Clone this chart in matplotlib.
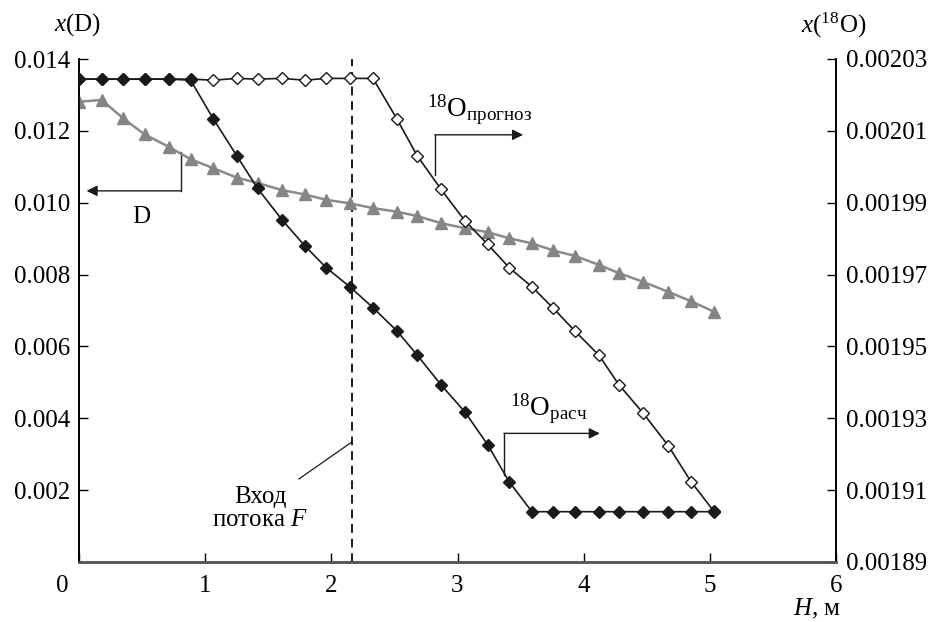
import matplotlib
matplotlib.use('Agg')
import matplotlib.pyplot as plt
import matplotlib.transforms as mtrans
from matplotlib.ticker import FormatStrFormatter

plt.rcParams['font.family'] = ['Liberation Serif', 'DejaVu Serif']
plt.rcParams['mathtext.fontset'] = 'custom'
plt.rcParams['mathtext.rm'] = 'Liberation Serif'
plt.rcParams['mathtext.it'] = 'Liberation Serif:italic'
plt.rcParams['font.size'] = 18

# column height, m
H = [0.00, 0.18, 0.35, 0.52, 0.71, 0.885, 1.065, 1.25, 1.415, 1.61,
     1.79, 1.96, 2.15, 2.33, 2.52, 2.68, 2.87, 3.06, 3.24, 3.41,
     3.59, 3.76, 3.93, 4.12, 4.28, 4.47, 4.67, 4.85, 5.03]

# x(D), left axis
xD = [0.01281, 0.01286, 0.01235, 0.01190, 0.01156, 0.01121, 0.01096, 0.01070,
      0.01055, 0.01035, 0.01023, 0.01008, 0.00998, 0.00985, 0.00975, 0.00963,
      0.00943, 0.00929, 0.00918, 0.00901, 0.00887, 0.00867, 0.00852, 0.00827,
      0.00804, 0.00780, 0.00752, 0.00726, 0.00697]

# x(18O) calculated, right axis
xO_calc = [0.0020244, 0.0020244, 0.0020244, 0.0020244, 0.0020244, 0.0020241,
           0.0020133, 0.0020031, 0.0019940, 0.0019852, 0.0019780, 0.0019719,
           0.0019665, 0.0019608, 0.0019543, 0.0019476, 0.0019393, 0.0019317,
           0.0019226, 0.0019123, 0.0019040, 0.0019040, 0.0019040, 0.0019040,
           0.0019040, 0.0019040, 0.0019040, 0.0019040, 0.0019040]

# x(18O) forecast, right axis
xO_prog = [0.0020244, 0.0020244, 0.0020244, 0.0020244, 0.0020244, 0.0020244,
           0.0020241, 0.0020246, 0.0020244, 0.0020246, 0.0020241, 0.0020246,
           0.0020246, 0.0020246, 0.0020133, 0.0020031, 0.0019937, 0.0019849,
           0.0019784, 0.0019719, 0.0019666, 0.0019606, 0.0019543, 0.0019476,
           0.0019393, 0.0019315, 0.0019224, 0.0019124, 0.0019042]

H_feed = 2.163

left_ticks = [0.002, 0.004, 0.006, 0.008, 0.010, 0.012, 0.014]
right_ticks = [0.00189, 0.00191, 0.00193, 0.00195, 0.00197, 0.00199, 0.00201, 0.00203]
x_ticks = [0, 1, 2, 3, 4, 5, 6]

fig = plt.figure(figsize=(9.33, 6.22), dpi=100)
ax = fig.add_axes([79/933, 60/622, (836-79)/933, (562-59)/622])
ax2 = ax.twinx()

ax.set_xlim(0, 6)
ax.set_ylim(0, 0.014)
ax2.set_ylim(0.00189, 0.00203)

ax.plot(H, xD, color='#8a8a8a', lw=1.8, marker='^', ms=9,
        mfc='#858585', mec='#858585', zorder=3)

ax.axvline(H_feed, color='#1a1a1a', lw=1.4, dashes=(4.5, 3), zorder=2)

ax2.plot(H, xO_prog, color='#1a1a1a', lw=1.2, marker='D', ms=5.8,
         mfc='white', mec='#1a1a1a', mew=1.0, zorder=3)
ax2.plot(H, xO_calc, color='#1a1a1a', lw=1.2, marker='D', ms=5.8,
         mfc='#1a1a1a', mec='#1a1a1a', zorder=4)

# annotations
arr = dict(arrowstyle='-|>', color='#1a1a1a', lw=1.0, mutation_scale=16,
           shrinkA=0, shrinkB=0)
kw = dict(color='#1a1a1a', lw=1.0)

ax.plot([0.808, 0.808], [0.01142, 0.01033], **kw)
ax.annotate('', xy=(0.06, 0.01033), xytext=(0.808, 0.01033), arrowprops=arr)
ax.text(0.497, 0.00961, 'D', ha='center', va='center')

ax.plot([2.821, 2.821], [0.01077, 0.01189], **kw)
ax.annotate('', xy=(3.52, 0.01189), xytext=(2.821, 0.01189), arrowprops=arr)
ax.text(3.177, 0.01240, r'$^{18}$O$_{\mathrm{прогноз}}$', ha='center',
        va='baseline', fontsize=19.5)

ax.plot([3.368, 3.368], [0.00242, 0.00358], **kw)
ax.annotate('', xy=(4.128, 0.00358), xytext=(3.368, 0.00358), arrowprops=arr)
ax.text(3.725, 0.00406, r'$^{18}$O$_{\mathrm{расч}}$', ha='center',
        va='baseline', fontsize=19.5)

ax.plot([1.743, 2.166], [0.00231, 0.003348], color='#1a1a1a', lw=0.9)
ax.text(1.434, 0.00149, 'Вход\nпотока $F$', ha='center', va='center',
        multialignment='center', linespacing=1.1)

# axes styling
for a in (ax, ax2):
    a.spines['top'].set_visible(False)
    a.spines['left'].set_linewidth(1.2)
    a.spines['right'].set_linewidth(1.2)
    a.spines['bottom'].set_linewidth(1.8)
    a.spines['bottom'].set_color('#555555')

ax.set_xticks(x_ticks)
ax.set_yticks(left_ticks)
ax2.set_yticks(right_ticks)
ax.yaxis.set_major_formatter(FormatStrFormatter('%.3f'))
ax2.yaxis.set_major_formatter(FormatStrFormatter('%.5f'))
ax.tick_params(axis='x', direction='in', length=6.5, width=1, pad=9)
ax.tick_params(axis='y', direction='in', length=6.5, width=1, pad=6)
ax2.tick_params(axis='y', direction='in', length=6.5, width=1, pad=7)

fig.canvas.draw()
lbl0 = ax.get_xticklabels()[0]
lbl0.set_transform(lbl0.get_transform() +
                   mtrans.ScaledTranslation(-17/100, 0, fig.dpi_scale_trans))

fig.text(78/933, 1 - 25/622, '$x$(D)', ha='center', va='center')
fig.text(834/933, 1 - 25/622, '$x$($^{18}$O)', ha='center', va='center')
fig.text(817/933, 1 - 609/622, '$H$, м', ha='center', va='center')

fig.savefig('out.png', dpi=100)
